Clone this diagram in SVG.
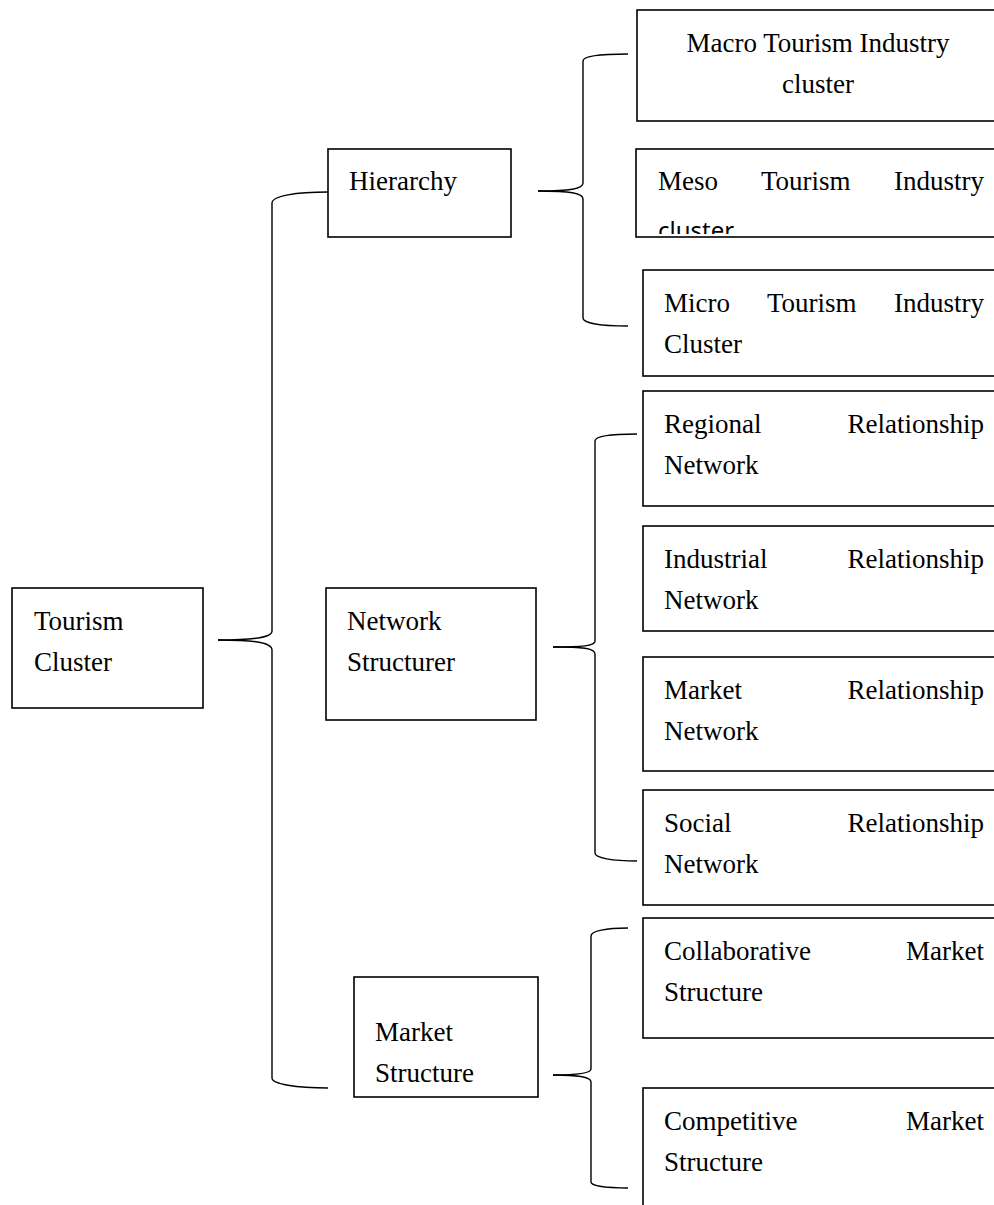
<svg xmlns="http://www.w3.org/2000/svg" width="994" height="1205" viewBox="0 0 994 1205">
<style>
.box{fill:#fff;stroke:#000;stroke-width:1.6}
.t{font-family:"Liberation Serif","Times New Roman",serif;font-size:27px;fill:#000}
.s{font-family:"Noto Sans","Open Sans","Liberation Sans",sans-serif;font-size:24px;fill:#000}
.br{fill:none;stroke:#000;stroke-width:1.4}
</style>
<defs>
<clipPath id="mesoClip"><rect x="636" y="149" width="400" height="85"/></clipPath>
</defs>
<rect width="994" height="1205" fill="#fff"/>
<g id="connectors">
<path class="br" d="M218,640 C252,640 272,638 272,631 L272,203 C272,196 296,192 328,192"/>
<path class="br" d="M218,640 C252,640 272,642 272,650 L272,1078 C272,1084 296,1088 328,1088"/>
<path class="br" d="M538,191 C570,191 583,189 583,183 L583,61 C583,56 600,54 628,54"/>
<path class="br" d="M538,191 C570,191 583,193 583,199 L583,318 C583,323 600,326 628,326"/>
<path class="br" d="M553,647 C582,647 595,646 595,641 L595,441 C595,436 612,434 637,434"/>
<path class="br" d="M553,647 C582,647 595,648 595,654 L595,853 C595,858 612,861 637,861"/>
<path class="br" d="M553,1075 C580,1075 591,1073 591,1069 L591,936 C591,931 606,928 628,928"/>
<path class="br" d="M553,1075 C580,1075 591,1077 591,1082 L591,1182 C591,1186 606,1188 628,1188"/>
</g>
<g id="tourism-cluster">
<rect class="box" x="12" y="588" width="191" height="120"/>
<text class="t" x="34" y="630">Tourism</text>
<text class="t" x="34" y="671">Cluster</text>
</g>
<g id="hierarchy">
<rect class="box" x="328" y="149" width="183" height="88"/>
<text class="t" x="349" y="190">Hierarchy</text>
</g>
<g id="network-structurer">
<rect class="box" x="326" y="588" width="210" height="132"/>
<text class="t" x="347" y="630">Network</text>
<text class="t" x="347" y="671">Structurer</text>
</g>
<g id="market-structure">
<rect class="box" x="354" y="977" width="184" height="120"/>
<text class="t" x="375" y="1041">Market</text>
<text class="t" x="375" y="1082">Structure</text>
</g>
<g id="macro">
<rect class="box" x="637" y="10" width="400" height="111"/>
<text class="t" x="818" y="52" text-anchor="middle">Macro Tourism Industry</text>
<text class="t" x="818" y="93" text-anchor="middle">cluster</text>
</g>
<g id="meso">
<rect class="box" x="636" y="149" width="400" height="88"/>
<text class="t" x="658" y="190">Meso</text>
<text class="t" x="761" y="190">Tourism</text>
<text class="t" x="984" y="190" text-anchor="end">Industry</text>
<text class="s" x="658" y="239" clip-path="url(#mesoClip)">cluster</text>
</g>
<g id="micro">
<rect class="box" x="643" y="270" width="400" height="106"/>
<text class="t" x="664" y="312">Micro</text>
<text class="t" x="767" y="312">Tourism</text>
<text class="t" x="984" y="312" text-anchor="end">Industry</text>
<text class="t" x="664" y="353">Cluster</text>
</g>
<g id="regional">
<rect class="box" x="643" y="391" width="400" height="115"/>
<text class="t" x="664" y="433">Regional</text>
<text class="t" x="984" y="433" text-anchor="end">Relationship</text>
<text class="t" x="664" y="474">Network</text>
</g>
<g id="industrial">
<rect class="box" x="643" y="526" width="400" height="105"/>
<text class="t" x="664" y="568">Industrial</text>
<text class="t" x="984" y="568" text-anchor="end">Relationship</text>
<text class="t" x="664" y="609">Network</text>
</g>
<g id="market-relationship">
<rect class="box" x="643" y="657" width="400" height="114"/>
<text class="t" x="664" y="699">Market</text>
<text class="t" x="984" y="699" text-anchor="end">Relationship</text>
<text class="t" x="664" y="740">Network</text>
</g>
<g id="social">
<rect class="box" x="643" y="790" width="400" height="115"/>
<text class="t" x="664" y="832">Social</text>
<text class="t" x="984" y="832" text-anchor="end">Relationship</text>
<text class="t" x="664" y="873">Network</text>
</g>
<g id="collaborative">
<rect class="box" x="643" y="918" width="400" height="120"/>
<text class="t" x="664" y="960">Collaborative</text>
<text class="t" x="984" y="960" text-anchor="end">Market</text>
<text class="t" x="664" y="1001">Structure</text>
</g>
<g id="competitive">
<rect class="box" x="643" y="1088" width="400" height="140"/>
<text class="t" x="664" y="1130">Competitive</text>
<text class="t" x="984" y="1130" text-anchor="end">Market</text>
<text class="t" x="664" y="1171">Structure</text>
</g>
</svg>
